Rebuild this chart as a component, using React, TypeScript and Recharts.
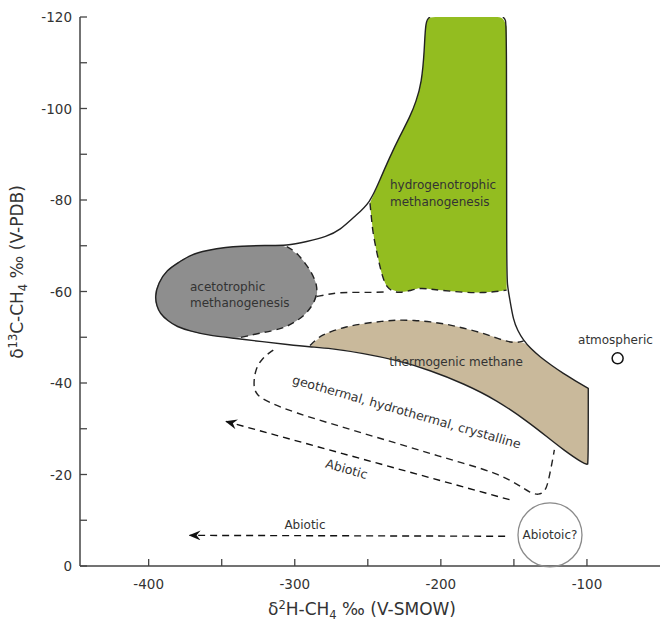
import React from "react";
import { ComposedChart, Line, Area, XAxis, YAxis, ReferenceDot } from "recharts";

const FONT = "'DejaVu Sans', Verdana, sans-serif";
const INK = "#222";
const TEXT = "#333";

// axes
const xTicks = [-400, -350, -300, -250, -200, -150, -100];
const xLabelled = [-400, -300, -200, -100];
const yTicks = [-120, -110, -100, -90, -80, -70, -60, -50, -40, -30, -20, -10, 0];
const yLabelled = [-120, -100, -80, -60, -40, -20, 0];

// solid outer envelope: green left edge -> acetotrophic blob -> lower edge
const envX = [-207.4, -210.6, -211.2, -213.2, -217, -221.1, -228, -234.8, -241.5, -248.5, -258.8, -269.0, -278.2, -291.8, -305.5, -320, -337.5, -346.6, -360, -371.7, -378.6, -387.7, -393.5, -395.7, -394.5, -392.2, -387, -380.8, -371, -360.3, -342.1, -321.5, -305, -289.6, -275.9, -253.1, -230.2, -207.4, -184.6, -161.8, -139.0, -127.6, -116.2, -102.5, -99.5];
const envY = [-120.0, -119.3, -112.8, -105.5, -101.5, -98.2, -94.0, -89.5, -84.6, -79.3, -76.5, -73.4, -72.0, -70.9, -70.0, -70.1, -69.9, -69.7, -69.0, -68.0, -66.5, -64.7, -61.8, -58.9, -56.8, -55.2, -53.6, -52.3, -51.3, -50.5, -49.8, -49.0, -48.4, -47.9, -47.6, -46.5, -45.0, -42.8, -39.9, -36.3, -31.2, -28.3, -25.4, -22.4, -22.2];

// solid right edge of envelope up to the top
const rightX = [-99.5, -99.1, -99.1, -99.1, -99.1, -108, -116.2, -124, -132.1, -138.5, -143.6, -147.5, -150.4, -152.7, -154.6, -155.0, -155.0, -155.6, -157.5];
const rightY = [-22.2, -24.0, -38.8, -38.8, -38.8, -40.5, -42.1, -43.8, -45.7, -47.5, -49.4, -51.5, -53.8, -58.1, -61.5, -65.0, -117.9, -119.4, -120.0];

// dashed borders
const greenEdgeX = [-248.5, -247.5, -246.5, -244, -241.7, -239.5, -237.1, -233, -228, -221, -214.3, -207, -200.6, -185, -171.2, -162, -155];
const greenEdgeY = [-79.3, -76.0, -72.8, -68.8, -65.4, -62.8, -61.0, -60.0, -59.7, -60.2, -60.8, -60.5, -60.3, -59.8, -59.7, -60.0, -60.3];

const blobEdgeX = [-305.5, -300, -296.4, -292.5, -289.6, -286.8, -285.0, -284.7, -286.2, -289, -293.0, -299, -305.5, -314, -323.8, -332, -339.7];
const blobEdgeY = [-69.8, -68.8, -67.6, -66.0, -64.7, -63.0, -61.4, -59.8, -58.1, -56.5, -54.9, -53.5, -52.3, -51.5, -50.9, -50.3, -49.8];

const linkX = [-285.0, -277, -269, -258, -246, -237];
const linkY = [-58.9, -59.4, -59.8, -59.8, -59.8, -59.9];

const thermoEdgeX = [-289.6, -285, -282, -275.9, -265, -253.1, -240, -230.2, -218, -207.4, -195, -184.6, -172, -161.8, -150, -143.3];
const thermoEdgeY = [-48.2, -49.6, -50.3, -51.2, -52.3, -53.0, -53.5, -53.8, -53.7, -53.4, -52.8, -52.0, -51.0, -49.8, -48.6, -49.2];

const geoX = [-314.7, -322.6, -327.2, -328.4, -326.1, -319.2, -298.7, -276, -253.1, -230, -207.4, -185, -161.8, -147, -139.0, -133, -129, -127, -125.5, -123.5, -122.3];
const geoY = [-47.2, -45.4, -42.8, -39.2, -37.4, -35.9, -33.4, -31.2, -29.0, -26.8, -24.6, -22.5, -20.3, -17.8, -16.0, -15.5, -16.2, -17.8, -20.0, -23.2, -25.4];

// dashed "Abiotic" arrows (start -> tip)
const arrow1X = [-153, -347];
const arrow1Y = [-14.5, -31.6];
const arrow2X = [-156, -372];
const arrow2Y = [-6.5, -6.7];

// filled regions: x with lower / upper bounds
const greenX = [-248.5, -246.5, -244, -241.7, -239.5, -237.1, -234.8, -228, -221.1, -217, -213.2, -211.2, -210.6, -207.4, -200.6, -185, -171.2, -162, -157.5, -155.0];
const greenTop = [-79.3, -80.8, -82.6, -84.4, -86.1, -87.8, -89.5, -94.0, -98.2, -101.5, -105.5, -112.8, -119.3, -120, -120, -120, -120, -120, -120, -117.9];
const greenBottom = [-79.3, -72.8, -68.8, -65.4, -62.8, -61.0, -60.6, -59.7, -60.2, -60.6, -60.8, -60.7, -60.6, -60.5, -60.3, -59.8, -59.7, -60.0, -60.2, -60.3];

const blobX = [-395.7, -394.5, -392.2, -387.7, -380.8, -371.7, -360.3, -346.6, -337.5, -323.8, -310, -305.5, -299, -293, -289.6, -286.5, -285.0, -284.7];
const blobTop = [-59.5, -61.0, -62.6, -64.7, -66.3, -68.0, -69.0, -69.7, -69.9, -70.1, -70.1, -69.8, -68.4, -66.4, -64.7, -62.7, -61.4, -59.8];
const blobBottom = [-58.3, -56.8, -55.2, -53.8, -52.3, -51.3, -50.5, -49.9, -49.8, -50.9, -51.9, -52.3, -53.5, -54.9, -56.3, -57.8, -58.6, -59.8];

const thermoX = [-289.6, -282, -275.9, -265, -253.1, -240, -230.2, -218, -207.4, -195, -184.6, -172, -161.8, -150, -143.3, -132.1, -124, -116.2, -108, -102.5, -99.3];
const thermoTop = [-48.0, -50.3, -51.2, -52.3, -53.0, -53.5, -53.8, -53.7, -53.4, -52.8, -52.0, -51.0, -49.8, -48.8, -49.3, -45.7, -43.8, -42.1, -40.5, -39.5, -39.0];
const thermoBottom = [-47.9, -47.7, -47.6, -47.1, -46.5, -45.6, -45.0, -43.8, -42.8, -41.2, -39.9, -37.9, -36.3, -33.7, -32.1, -29.4, -27.5, -25.4, -23.6, -22.4, -22.3];

// annotations (data coordinates)
const notes = [
  { text: "acetotrophic", x: -371.7, y: -61.1, anchor: "start", angle: 0 },
  { text: "methanogenesis", x: -371.7, y: -57.6, anchor: "start", angle: 0 },
  { text: "hydrogenotrophic", x: -234.8, y: -83.3, anchor: "start", angle: 0 },
  { text: "methanogenesis", x: -234.8, y: -79.6, anchor: "start", angle: 0 },
  { text: "thermogenic methane", x: -189.6, y: -44.7, anchor: "middle", angle: 0 },
  { text: "geothermal, hydrothermal, crystalline", x: -223.4, y: -33.7, anchor: "middle", angle: 16 },
  { text: "Abiotic", x: -264.5, y: -21.2, anchor: "middle", angle: 16 },
  { text: "Abiotic", x: -293, y: -9.0, anchor: "middle", angle: 0 },
  { text: "atmospheric", x: -80.5, y: -49.4, anchor: "middle", angle: 0 },
];

const pts = (xs: number[], ys: number[]) => xs.map((x, i) => ({ x, y: ys[i] }));
const band = (xs: number[], lo: number[], hi: number[]) =>
  xs.map((x, i) => ({ x, r: [lo[i], hi[i]] }));

function BottomTick({ x, y, payload }: any) {
  return (
    <g>
      <line x1={x} x2={x} y1={y} y2={y - 7} stroke="#444" strokeWidth={1.3} />
      {xLabelled.includes(payload.value) && (
        <text x={x} y={y + 23} textAnchor="middle" fontSize={13.5} fill={TEXT}>
          {payload.value}
        </text>
      )}
    </g>
  );
}

function TopTick({ x, y }: any) {
  return <line x1={x} x2={x} y1={y} y2={y + 8} stroke="#444" strokeWidth={1.3} />;
}

function LeftTick({ x, y, payload }: any) {
  return (
    <g>
      <line x1={x} x2={x + 7} y1={y} y2={y} stroke="#444" strokeWidth={1.3} />
      {yLabelled.includes(payload.value) && (
        <text x={x - 8} y={y + 5} textAnchor="end" fontSize={13.5} fill={TEXT}>
          {payload.value}
        </text>
      )}
    </g>
  );
}

function RightTick({ x, y }: any) {
  return <line x1={x} x2={x - 7} y1={y} y2={y} stroke="#444" strokeWidth={1.3} />;
}

function XTitle(props: any) {
  const vb = props.viewBox ?? { x: 80, y: 566, width: 580, height: 60 };
  return (
    <text x={vb.x + 282} y={vb.y + 49} textAnchor="middle" fontSize={17} fill={TEXT}>
      δ<tspan dy={-6} fontSize={11.5}>2</tspan>
      <tspan dy={6}>H-CH</tspan>
      <tspan dy={4} fontSize={11.5}>4</tspan>
      <tspan dy={-4}> ‰ (V-SMOW)</tspan>
    </text>
  );
}

function YTitle(props: any) {
  const vb = props.viewBox ?? { x: 0, y: 17, width: 80, height: 549 };
  const cx = vb.x + 23;
  const cy = vb.y + 255;
  return (
    <text x={cx} y={cy} transform={`rotate(-90, ${cx}, ${cy})`} textAnchor="middle" fontSize={17} fill={TEXT}>
      δ<tspan dy={-6} fontSize={11.5}>13</tspan>
      <tspan dy={6}>C-CH</tspan>
      <tspan dy={4} fontSize={11.5}>4</tspan>
      <tspan dy={-4}> ‰ (V-PDB)</tspan>
    </text>
  );
}

const lineProps = {
  dataKey: "y",
  type: "basis" as const,
  stroke: INK,
  strokeWidth: 1.4,
  dot: false,
  activeDot: false,
  isAnimationActive: false,
  legendType: "none" as const,
};

const dashed = { ...lineProps, strokeDasharray: "7 5" };

const areaProps = {
  dataKey: "r",
  type: "basis" as const,
  stroke: "none",
  fillOpacity: 1,
  dot: false,
  activeDot: false,
  isAnimationActive: false,
  legendType: "none" as const,
};

export default function App() {
  return (
    <div
      style={{
        position: "absolute",
        left: 0,
        top: 0,
        width: 660,
        height: 626,
        overflow: "hidden",
        background: "#fff",
        fontFamily: FONT,
      }}
    >
      <svg width={0} height={0} style={{ position: "absolute" }}>
        <defs>
          <marker
            id="arrowTip"
            viewBox="0 0 12 10"
            refX={11}
            refY={5}
            markerWidth={12}
            markerHeight={10}
            markerUnits="userSpaceOnUse"
            orient="auto"
          >
            <path d="M12,5 L0,0 L4,5 L0,10 Z" fill="#111" stroke="none" />
          </marker>
        </defs>
      </svg>
      <ComposedChart
        width={660}
        height={626}
        margin={{ top: 17, right: 0, bottom: 0, left: 0 }}
        style={{ fontFamily: FONT }}
      >
        <XAxis
          xAxisId={0}
          dataKey="x"
          type="number"
          domain={[-447, -50]}
          allowDataOverflow
          ticks={xTicks}
          interval={0}
          tickSize={0}
          tickMargin={0}
          tickLine={false}
          tick={BottomTick}
          axisLine={{ stroke: "#444", strokeWidth: 1.5 }}
          height={60}
          label={<XTitle />}
        />
        <XAxis
          xAxisId="top"
          orientation="top"
          dataKey="x"
          type="number"
          domain={[-447, -50]}
          allowDataOverflow
          ticks={xTicks}
          interval={0}
          tickSize={0}
          tickMargin={0}
          tickLine={false}
          tick={TopTick}
          axisLine={{ stroke: "#444", strokeWidth: 1.5 }}
          height={0}
        />
        <YAxis
          yAxisId={0}
          type="number"
          domain={[-120, 0]}
          reversed
          allowDataOverflow
          ticks={yTicks}
          interval={0}
          tickSize={0}
          tickMargin={0}
          tickLine={false}
          tick={LeftTick}
          axisLine={{ stroke: "#444", strokeWidth: 1.5 }}
          width={80}
          label={<YTitle />}
        />
        <YAxis
          yAxisId="right"
          orientation="right"
          type="number"
          domain={[-120, 0]}
          reversed
          allowDataOverflow
          ticks={yTicks}
          interval={0}
          tickSize={0}
          tickMargin={0}
          tickLine={false}
          tick={RightTick}
          axisLine={{ stroke: "#444", strokeWidth: 1.5 }}
          width={0}
        />

        <Area {...areaProps} data={band(blobX, blobBottom, blobTop)} fill="#8e8e8e" />
        <Area {...areaProps} data={band(greenX, greenBottom, greenTop)} fill="#93bd20" />
        <Area {...areaProps} data={band(thermoX, thermoBottom, thermoTop)} fill="#c9b99b" />

        <Line {...lineProps} data={pts(envX, envY)} />
        <Line {...lineProps} data={pts(rightX, rightY)} />
        <Line {...dashed} data={pts(greenEdgeX, greenEdgeY)} />
        <Line {...dashed} data={pts(blobEdgeX, blobEdgeY)} />
        <Line {...dashed} data={pts(linkX, linkY)} />
        <Line {...dashed} data={pts(thermoEdgeX, thermoEdgeY)} />
        <Line {...dashed} data={pts(geoX, geoY)} />
        <Line {...dashed} type="linear" data={pts(arrow1X, arrow1Y)} stroke="#111" markerEnd="url(#arrowTip)" />
        <Line {...dashed} type="linear" data={pts(arrow2X, arrow2Y)} stroke="#111" markerEnd="url(#arrowTip)" />

        <ReferenceDot
          x={-125.3}
          y={-6.8}
          r={32}
          fill="none"
          stroke="#8a8a8a"
          strokeWidth={1.3}
          label={{ value: "Abiotoic?", position: "center", fill: TEXT, fontSize: 12 }}
        />
        <ReferenceDot x={-79.0} y={-45.4} r={5.5} fill="#fff" stroke="#111" strokeWidth={1.5} />
        {notes.map((n, i) => (
          <ReferenceDot
            key={i}
            x={n.x}
            y={n.y}
            r={0}
            fill="none"
            stroke="none"
            label={{
              value: n.text,
              position: n.anchor === "start" ? "right" : "center",
              offset: 0,
              angle: n.angle,
              fill: TEXT,
              fontSize: n.angle ? 12.5 : 12,
            }}
          />
        ))}
      </ComposedChart>
    </div>
  );
}
